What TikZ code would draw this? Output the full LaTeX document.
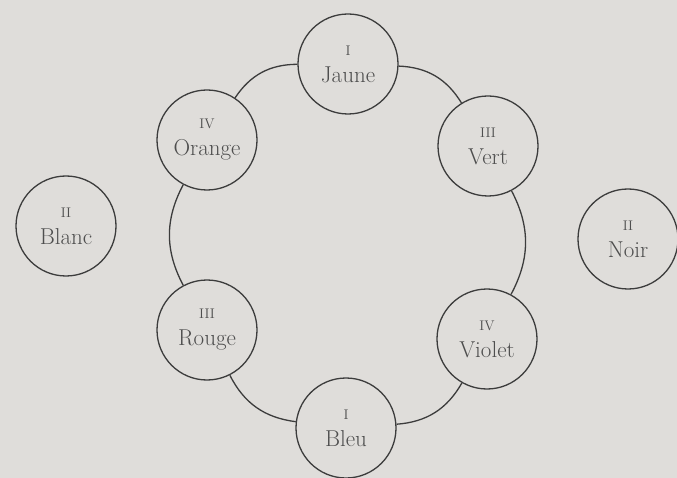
\documentclass[tikz,border=0pt]{standalone}
\usetikzlibrary{positioning}
\definecolor{paper}{RGB}{223,221,218}
\definecolor{ink}{RGB}{60,60,60}
\definecolor{txt}{RGB}{78,78,78}
\tikzset{
  couleur/.style={circle,draw=ink,line width=1.3pt,fill=paper,minimum size=100pt,inner sep=0pt,
    align=center,text=txt,font=\fontsize{23}{27}\selectfont},
  lien/.style={draw=ink,line width=1.3pt},
}
\newcommand{\rang}[1]{{\fontsize{14}{16}\selectfont #1}}

\begin{document}
\begin{tikzpicture}[x=1pt,y=-1pt]
\fill[paper] (0,0) rectangle (677,478);
\useasboundingbox (0,0) rectangle (677,478);
% ring of six colours
\node[couleur] (jaune) at (348,64) {\rang{I}\\Jaune};
\node[couleur] (vert) at (488,146) {\rang{III}\\Vert};
\node[couleur] (violet) at (487,339) {\rang{IV}\\Violet};
\node[couleur] (bleu) at (346,428) {\rang{I}\\Bleu};
\node[couleur] (rouge) at (207,330) {\rang{III}\\Rouge};
\node[couleur] (orange) at (207,140) {\rang{IV}\\Orange};
% outside the ring
\node[couleur] (blanc) at (66,226) {\rang{II}\\Blanc};
\node[couleur] (noir) at (628,239) {\rang{II}\\Noir};
\draw[lien] (jaune) to[bend left=28] (vert);
\draw[lien] (vert) to[bend left=28] (violet);
\draw[lien] (violet) to[bend left=28] (bleu);
\draw[lien] (bleu) to[bend left=28] (rouge);
\draw[lien] (rouge) to[bend left=28] (orange);
\draw[lien] (orange) to[bend left=28] (jaune);
\end{tikzpicture}
\end{document}
